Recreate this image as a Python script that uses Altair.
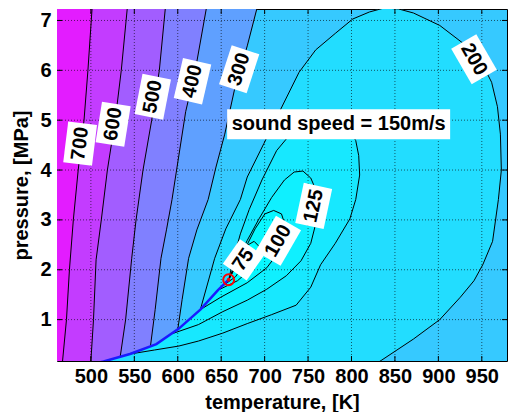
import altair as alt
import pandas as pd

# ---------------- axis ranges / ticks ----------------
T_RANGE = [461.0, 979.0]
P_RANGE = [0.17, 7.23]
T_TICKS = [500, 550, 600, 650, 700, 750, 800, 850, 900, 950]
P_TICKS = [1, 2, 3, 4, 5, 6, 7]

# ---------------- saturation curve (low p -> critical point) ----------------
SAT_T = [505.0, 514.6, 545.0, 575.4, 601.3, 626.0, 646.3, 658.6]
SAT_P = [0.12, 0.16, 0.31, 0.51, 0.82, 1.20, 1.59, 1.80]
CRIT_T, CRIT_P = 658.6, 1.80

# ---------------- liquid-side contours (top -> bottom) ----------------
C700_T = [501.6, 496.6, 492.1, 485.4, 479.8, 475.3, 471.9, 467.4, 466.8]
C700_P = [7.30, 6.00, 5.00, 4.00, 3.00, 2.00, 1.00, 0.17, 0.08]
C600_T = [542.2, 535.0, 528.0, 519.0, 512.0, 506.0, 503.0, 500.0, 499.5]
C600_P = [7.30, 6.00, 5.00, 4.00, 3.00, 2.20, 1.00, 0.17, 0.08]
C500_T = [586.0, 578.8, 570.0, 560.0, 552.0, 547.0, 540.0, 533.8]
C500_P = [7.30, 6.00, 5.00, 4.00, 3.00, 2.23, 1.00, 0.26]
C400_T = [633.5, 620.4, 609.1, 593.4, 587.0, 580.7, 574.0, 568.6]
C400_P = [7.30, 6.02, 5.17, 3.41, 2.80, 2.23, 1.20, 0.47]
C300_T = [692.0, 680.0, 665.4, 654.1, 644.0, 635.0, 622.0, 612.5, 605.0, 600.1]
C300_P = [7.30, 6.49, 5.62, 4.72, 4.06, 3.41, 2.80, 2.23, 1.40, 0.81]

# 200 m/s: from saturation curve, over the top, down to the bottom edge
C200_T = [626.0, 642.5, 655.3, 672.1, 680.0, 699.1, 717.1, 739.6, 758.8, 781.3,
          801.5, 820.6, 837.5, 854.4, 871.3, 901.6, 928.6, 950.0, 961.3, 968.0,
          971.4, 972.5, 969.1, 962.4, 951.1, 941.0, 925.3, 901.6, 871.3, 834.1, 820.6]
C200_P = [1.20, 2.23, 2.82, 3.41, 3.86, 4.53, 5.17, 5.96, 6.41, 6.74,
          7.03, 7.17, 7.25, 7.23, 7.15, 6.90, 6.54, 6.15, 5.76, 5.27,
          4.72, 4.00, 3.41, 2.57, 2.10, 1.78, 1.45, 1.00, 0.61, 0.18, 0.04]

# vapour-side loops: start on saturation curve, around, end at critical point
C150_T = [545.0, 573.1, 601.3, 623.8, 651.9, 680.0, 708.1, 736.3, 753.1, 764.4,
          781.3, 798.1, 804.9, 809.4, 808.3, 804.9, 794.8, 781.3, 764.4, 747.5,
          730.6, 713.8, 696.9, 682.3, 672.1, 664.3, 658.6]
C150_P = [0.31, 0.39, 0.47, 0.57, 0.73, 0.92, 1.10, 1.29, 1.65, 2.10,
          2.53, 3.02, 3.41, 3.90, 4.29, 4.59, 4.88, 5.04, 5.07, 4.98,
          4.74, 4.39, 3.80, 3.21, 2.72, 2.23, 1.80]
C125_T = [592.3, 623.8, 651.9, 680.0, 702.5, 725.0, 741.9, 753.1, 758.8, 761.0,
          758.8, 753.1, 744.1, 734.0, 722.8, 708.1, 693.5, 680.0, 668.8, 658.6]
C125_P = [0.71, 0.90, 1.16, 1.39, 1.61, 1.88, 2.18, 2.53, 2.92, 3.31,
          3.61, 3.84, 3.98, 3.96, 3.80, 3.45, 3.02, 2.59, 2.18, 1.80]
C100_T = [626.0, 649.6, 680.0, 702.5, 719.4, 725.0, 719.4, 710.4, 700.3, 689.0,
          677.8, 668.8, 658.6]
C100_P = [1.20, 1.45, 1.74, 2.04, 2.43, 2.82, 3.12, 3.19, 3.12, 2.82,
          2.43, 2.14, 1.80]
C75_T = [646.3, 668.8, 685.6, 693.5, 693.5, 687.9, 680.0, 671.0, 663.1, 658.6]
C75_P = [1.59, 1.78, 2.04, 2.27, 2.47, 2.57, 2.49, 2.23, 2.00, 1.80]
C50_T = [653.0, 666.5, 675.5, 676.6, 672.1, 665.4, 658.6]
C50_P = [1.69, 1.86, 2.08, 2.19, 2.18, 2.02, 1.80]

# band colours (cool colormap)
COL_BG = "#36c9ff"      # 200-300
COL_300 = "#5fa0ff"
COL_400 = "#8080ff"
COL_500 = "#a25dff"
COL_600 = "#c33cff"
COL_700 = "#e31cff"
COL_LT200 = "#22ddff"
COL_LT150 = "#17e8ff"
COL_LT125 = "#0ff0ff"
COL_LT100 = "#08f7ff"
COL_LT75 = "#00ffff"

# contour labels
LAB_TEXT = ["700", "600", "500", "400", "300", "200", "125", "100", "75",
            "sound speed = 150m/s"]
LAB_T = [487.6, 525.6, 571.3, 617.0, 670.7, 941.0, 756.5, 715.7, 675.5, 785.2]
LAB_P = [4.53, 4.92, 5.47, 5.78, 6.02, 6.22, 3.28, 2.58, 2.20, 4.92]
LAB_ANGLE = [277, 279, 281, 283, 288, 60, 282, 300, 305, 0]
LAB_W = [41, 41, 41, 41, 41, 41, 41, 41, 30, 223]
LAB_H = [29, 29, 29, 29, 29, 29, 29, 29, 29, 30]

T_LO, T_HI, P_LO, P_HI = 420.0, 1020.0, -1.0, 9.0

FONT = "Liberation Sans"
W, H = 450, 352

xscale = alt.Scale(domain=T_RANGE, nice=False, zero=False)
yscale = alt.Scale(domain=P_RANGE, nice=False, zero=False)
X = alt.X("T:Q", scale=xscale,
          axis=alt.Axis(values=T_TICKS, title="temperature, [K]", grid=False,
                        ticks=False, domain=False, labelPadding=5, titlePadding=6))
Y = alt.Y("P:Q", scale=yscale,
          axis=alt.Axis(values=P_TICKS, title="pressure, [MPa]", grid=False,
                        ticks=False, domain=False, labelPadding=6, titlePadding=8))


def df_of(ts, ps):
    return pd.DataFrame({"T": ts, "P": ps, "i": list(range(len(ts)))})


def fill_layer(ts, ps, color):
    return alt.Chart(df_of(ts, ps)).mark_line(
        fill=color, stroke=color, strokeWidth=0.5, clip=True, interpolate="linear"
    ).encode(x=X, y=Y, order="i:Q")


def line_layer(ts, ps, color="black", width=1.0):
    return alt.Chart(df_of(ts, ps)).mark_line(
        color=color, strokeWidth=width, clip=True
    ).encode(x=X, y=Y, order="i:Q")


layers = []

# liquid-side regions (c > level), drawn from 300 upward
for lt, lp, col in [(C300_T, C300_P, COL_300), (C400_T, C400_P, COL_400),
                    (C500_T, C500_P, COL_500), (C600_T, C600_P, COL_600),
                    (C700_T, C700_P, COL_700)]:
    ts = [T_LO, lt[0]] + lt
    ps = [P_HI, P_HI] + lp
    end_t, end_p = lt[-1], lp[-1]
    sat = [(t, p) for t, p in zip(SAT_T, SAT_P) if t < end_t and p < end_p]
    for t, p in reversed(sat):
        ts.append(t)
        ps.append(p)
    ts += [ts[-1], T_LO]
    ps += [P_LO, P_LO]
    layers.append(fill_layer(ts, ps, col))

# region c < 200
ts = list(C200_T) + [C200_T[-1], SAT_T[0]]
ps = list(C200_P) + [P_LO, P_LO]
for t, p in zip(SAT_T, SAT_P):
    if t < C200_T[0]:
        ts.append(t)
        ps.append(p)
layers.append(fill_layer(ts, ps, COL_LT200))

# nested loops
for lt, lp, col in [(C150_T, C150_P, COL_LT150), (C125_T, C125_P, COL_LT125),
                    (C100_T, C100_P, COL_LT100), (C75_T, C75_P, COL_LT75)]:
    ts = list(lt)
    ps = list(lp)
    sat = [(t, p) for t, p in zip(SAT_T, SAT_P) if lt[0] < t < CRIT_T]
    for t, p in reversed(sat):
        ts.append(t)
        ps.append(p)
    layers.append(fill_layer(ts, ps, col))

# dotted grid
layers.append(alt.Chart(pd.DataFrame({"T": T_TICKS})).mark_rule(
    color="black", strokeWidth=1, strokeDash=[1, 2], opacity=0.6).encode(x=X))
layers.append(alt.Chart(pd.DataFrame({"P": P_TICKS})).mark_rule(
    color="black", strokeWidth=1, strokeDash=[1, 2], opacity=0.6).encode(y=Y))

# inward tick marks on all four sides
tx = pd.DataFrame({"T": T_TICKS})
ty = pd.DataFrame({"P": P_TICKS})
layers.append(alt.Chart(tx).mark_rule(color="black", strokeWidth=1).encode(
    x=X, y=alt.value(H), y2=alt.value(H - 5)))
layers.append(alt.Chart(tx).mark_rule(color="black", strokeWidth=1).encode(
    x=X, y=alt.value(0), y2=alt.value(5)))
layers.append(alt.Chart(ty).mark_rule(color="black", strokeWidth=1).encode(
    y=Y, x=alt.value(0), x2=alt.value(5)))
layers.append(alt.Chart(ty).mark_rule(color="black", strokeWidth=1).encode(
    y=Y, x=alt.value(W), x2=alt.value(W - 5)))

# contour lines
for lt, lp in [(C700_T, C700_P), (C600_T, C600_P), (C500_T, C500_P),
               (C400_T, C400_P), (C300_T, C300_P), (C200_T, C200_P),
               (C150_T, C150_P), (C125_T, C125_P), (C100_T, C100_P),
               (C75_T, C75_P), (C50_T, C50_P)]:
    layers.append(line_layer(lt, lp))

# saturation curve
layers.append(line_layer(SAT_T, SAT_P, color="#1a1aff", width=2.5))

# label boxes and texts
lab = pd.DataFrame({
    "text": LAB_TEXT, "T": LAB_T, "P": LAB_P, "angle": LAB_ANGLE,
    "size": [w * w for w in LAB_W],
    "shape": ["M-1,-{r}L1,-{r}L1,{r}L-1,{r}Z".format(r=round(h / w, 4))
              for w, h in zip(LAB_W, LAB_H)],
})
layers.append(alt.Chart(lab).mark_point(filled=True, fill="white", opacity=1,
                                        strokeWidth=0).encode(
    x=X, y=Y,
    shape=alt.Shape("shape:N", scale=None),
    size=alt.Size("size:Q", scale=None),
    angle=alt.Angle("angle:Q", scale=None)))
layers.append(alt.Chart(lab).mark_text(font=FONT, fontSize=20, fontWeight="bold",
                                       color="black", align="center",
                                       baseline="middle").encode(
    x=X, y=Y, text="text:N", angle=alt.Angle("angle:Q", scale=None)))

# critical point marker
crit = pd.DataFrame({"T": [CRIT_T], "P": [CRIT_P]})
layers.append(alt.Chart(crit).mark_point(shape="circle", filled=False, color="red",
                                         strokeWidth=2, size=120, opacity=1).encode(x=X, y=Y))
layers.append(alt.Chart(crit).mark_point(shape="circle", filled=True, color="red",
                                         size=14, opacity=1).encode(x=X, y=Y))

chart = alt.layer(*layers).properties(
    width=W, height=H,
    padding={"left": 3, "top": 0, "right": 0, "bottom": 0},
).configure_view(
    fill=COL_BG, stroke="black", strokeWidth=1
).configure_axis(
    labelFont=FONT, labelFontSize=20, labelFontWeight="bold", labelColor="black",
    titleFont=FONT, titleFontSize=20, titleFontWeight="bold", titleColor="black",
)

chart.save("out.html", embed_options={"renderer": "svg", "actions": False})
